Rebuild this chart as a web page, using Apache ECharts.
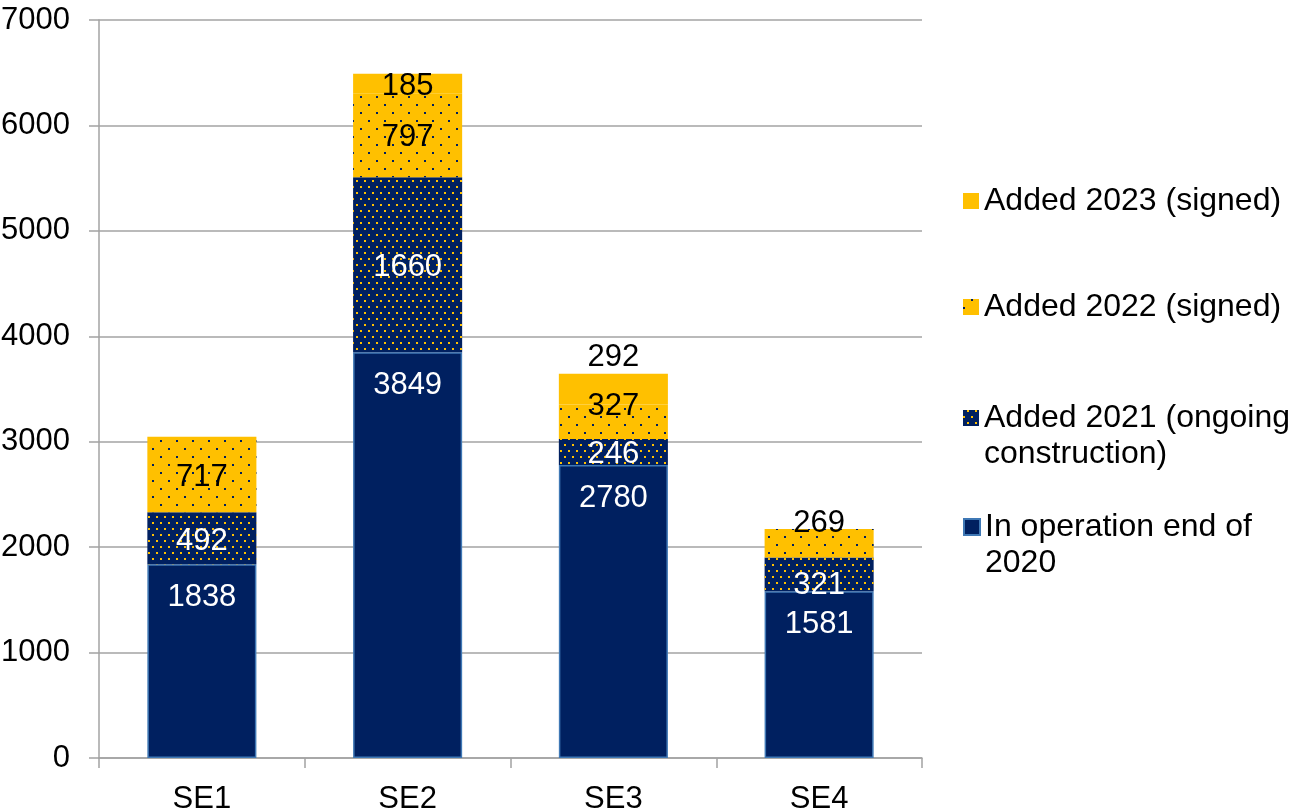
<!DOCTYPE html>
<html>
<head>
<meta charset="utf-8">
<script src="https://cdn.jsdelivr.net/npm/echarts@6/dist/echarts.min.js"></script>
<style>
html,body{margin:0;padding:0;background:#fff;}
#chart{width:1291px;height:809px;}
</style>
</head>
<body>
<div id="chart"></div>
<script>
const categories = ['SE1', 'SE2', 'SE3', 'SE4'];
const inOperation2020 = [1838, 3849, 2780, 1581];
const added2021 = [492, 1660, 246, 321];
const added2022 = [717, 797, 327, 269];
const added2023 = [null, 185, 292, null];
const yTicks = { min: 0, max: 7000, interval: 1000 };

const names = ['In operation end of\n2020', 'Added 2021 (ongoing\nconstruction)', 'Added 2022 (signed)', 'Added 2023 (signed)'];

const NAVY = '#002060';
const YELLOW = '#FFC000';
const GRAY = '#a3a3a3';
const FONT = 'Liberation Sans, Arial, sans-serif';

// label offsets (styling only)
const off2021 = [[0,3],[0,3],[0,3],[0,11]];
const off2022 = [[0,3],[0,2],[0,-15],[0,-20]];
const off2023 = [[0,0],[0,3],[0,2],[0,0]];

function items(vals, offs, extra) {
  return vals.map((v, i) => {
    const o = { value: v };
    const lab = {};
    if (offs) lab.offset = offs[i];
    if (extra && extra[i]) Object.assign(lab, extra[i]);
    o.label = lab;
    return o;
  });
}

const chart = echarts.init(document.getElementById('chart'), null, { renderer: 'canvas' });
const labelBase = { show: true, fontSize: 31, fontFamily: FONT };
const legendText = { color: '#000', fontSize: 32, fontFamily: FONT, lineHeight: 36 };

function mkLegend(name, top, twoLine) {
  const l = {
    data: [name], left: 963, top: top, orient: 'vertical', padding: 0,
    itemWidth: 16, itemHeight: 16, icon: 'rect',
    textStyle: legendText
  };
  if (twoLine) l.formatter = n => ' \n' + n;
  return l;
}

chart.setOption({
  animation: false,
  grid: { left: 99, right: 369, top: 20, bottom: 51, containLabel: false, outerBoundsMode: 'none' },
  xAxis: {
    type: 'category',
    data: categories,
    axisLine: { lineStyle: { color: GRAY, width: 1.5 } },
    axisTick: { show: true, length: 10, lineStyle: { color: GRAY, width: 1.5 } },
    axisLabel: { color: '#000', fontSize: 31, fontFamily: FONT, margin: 26 }
  },
  yAxis: {
    type: 'value',
    min: yTicks.min, max: yTicks.max, interval: yTicks.interval,
    axisLine: { show: true, lineStyle: { color: GRAY, width: 1.5 } },
    axisTick: { show: true, length: 10, lineStyle: { color: GRAY, width: 1.5 } },
    splitLine: { lineStyle: { color: GRAY, width: 1.5 } },
    axisLabel: { color: '#000', fontSize: 31, fontFamily: FONT, margin: 29, formatter: v => String(v) }
  },
  legend: [
    mkLegend(names[3], 183, false),
    mkLegend(names[2], 289, false),
    mkLegend(names[1], 364, true),
    mkLegend(names[0], 473, true)
  ],
  series: [
    {
      name: names[0], type: 'bar', stack: 'total', barWidth: '53%',
      itemStyle: { color: NAVY, borderColor: '#3f78b5', borderWidth: 1.5 },
      label: Object.assign({}, labelBase, { position: 'insideTop', distance: 18, color: '#fff' }),
      data: inOperation2020
    },
    {
      name: names[1], type: 'bar', stack: 'total',
      itemStyle: { color: NAVY, decal: { symbol: 'rect', symbolSize: 1, color: YELLOW, dashArrayX: [[2, 6], [0, 4, 2, 2]], dashArrayY: [2, 3.3] } },
      label: Object.assign({}, labelBase, { position: 'inside', color: '#fff' }),
      data: items(added2021, off2021)
    },
    {
      name: names[2], type: 'bar', stack: 'total',
      itemStyle: { color: YELLOW, decal: { symbol: 'rect', symbolSize: 1, color: NAVY, dashArrayX: [[2, 14], [0, 8, 2, 6]], dashArrayY: [2, 6] } },
      label: Object.assign({}, labelBase, { position: 'inside', color: '#000' }),
      data: items(added2022, off2022)
    },
    {
      name: names[3], type: 'bar', stack: 'total',
      itemStyle: { color: YELLOW },
      label: Object.assign({}, labelBase, { position: 'inside', color: '#000' }),
      data: items(added2023, off2023, [null, null, { position: 'top', distance: 3 }, null])
    }
  ]
});
</script>
</body>
</html>
